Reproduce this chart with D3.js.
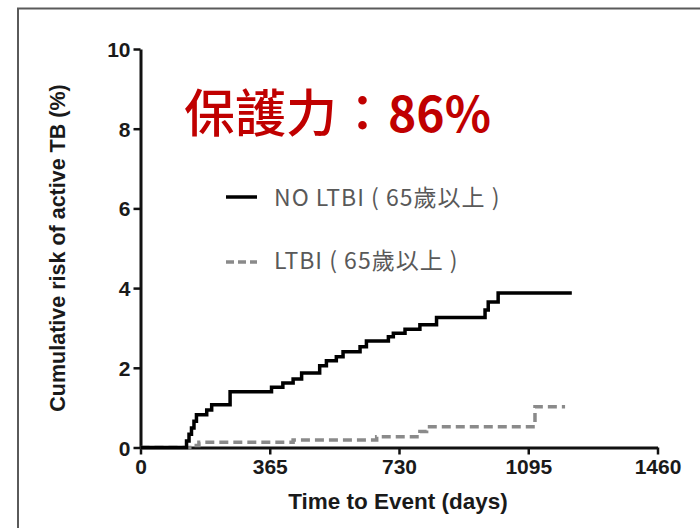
<!DOCTYPE html>
<html>
<head>
<meta charset="utf-8">
<script src="https://cdn.jsdelivr.net/npm/d3@7"></script>
<style>
  html, body { margin: 0; padding: 0; background: #fff; }
  svg { display: block; }
</style>
</head>
<body>
<svg id="chart" width="700" height="528"></svg>
<script>
// Cumulative incidence of active TB, age 65+ (step functions: [day, %])
const noLtbiSteps = [
  [0, 0], [130, 0.16], [137, 0.33], [144, 0.49], [151, 0.66], [158, 0.82],
  [187, 0.94], [201, 1.07], [253, 1.40], [370, 1.51], [402, 1.62], [431, 1.72],
  [455, 1.87], [506, 2.05], [525, 2.18], [553, 2.28], [572, 2.40], [620, 2.53],
  [638, 2.67], [700, 2.78], [714, 2.87], [747, 2.97], [789, 3.08], [836, 3.26],
  [973, 3.45], [982, 3.65], [1010, 3.88], [1218, 3.88]
];
const ltbiSteps = [
  [0, 0], [150, 0.05], [165, 0.13], [431, 0.19], [667, 0.27], [789, 0.40],
  [808, 0.52], [1114, 1.02], [1199, 1.02]
];
const xTicks = [0, 365, 730, 1095, 1460];
const yTicks = [0, 2, 4, 6, 8, 10];
const seriesNames = ["NO LTBI ( 65歲以上 )", "LTBI ( 65歲以上 )"];
const headline = ["保護力：", "86%"];
const xTitle = "Time to Event (days)";
const yTitle = "Cumulative risk of active TB (%)";

const svg = d3.select("#chart");

// outer frame
svg.append("rect")
  .attr("x", 18).attr("y", 8.5)
  .attr("width", 720).attr("height", 560)
  .attr("fill", "none").attr("stroke", "#5a5a5a").attr("stroke-width", 2);

const x = d3.scaleLinear().domain([0, 1460]).range([140.5, 657.5]);
const y = d3.scaleLinear().domain([0, 10]).range([447.5, 49]);

const axisFont = "'Liberation Sans', Arial, sans-serif";

// x axis
const gx = svg.append("g").attr("transform", `translate(0,${y(0)})`)
  .call(d3.axisBottom(x).tickValues(xTicks).tickFormat(d3.format("d"))
    .tickSize(7).tickPadding(5).tickSizeOuter(0));
// y axis
const gy = svg.append("g").attr("transform", `translate(${x(0)},0)`)
  .call(d3.axisLeft(y).tickValues(yTicks).tickFormat(d3.format("d"))
    .tickSize(7).tickPadding(3).tickSizeOuter(0));

[gx, gy].forEach(g => {
  g.select(".domain").attr("stroke", "#111").attr("stroke-width", 3);
  g.selectAll(".tick line").attr("stroke", "#111").attr("stroke-width", 2.5);
  g.selectAll(".tick text")
    .attr("fill", "#1a1a1a")
    .style("font-family", axisFont)
    .style("font-weight", "bold")
    .style("font-size", "21px");
});
gy.selectAll(".tick text").attr("dy", "0.36em");

// axis titles
svg.append("text")
  .attr("x", 398).attr("y", 509)
  .attr("text-anchor", "middle")
  .attr("fill", "#1a1a1a")
  .style("font-family", axisFont).style("font-weight", "bold").style("font-size", "22.5px")
  .text(xTitle);
svg.append("text")
  .attr("transform", "translate(65,248) rotate(-90)")
  .attr("text-anchor", "middle")
  .attr("fill", "#1a1a1a")
  .style("font-family", axisFont).style("font-weight", "bold").style("font-size", "21.5px")
  .text(yTitle);

// step curves
const line = d3.line()
  .x(d => x(d[0]))
  .y(d => y(d[1]))
  .curve(d3.curveStepAfter);

svg.append("path")
  .datum(ltbiSteps)
  .attr("d", line)
  .attr("fill", "none")
  .attr("stroke", "#8a8a8a")
  .attr("stroke-width", 3.5)
  .attr("stroke-dasharray", "9,5");

svg.append("path")
  .datum(noLtbiSteps)
  .attr("d", line)
  .attr("fill", "none")
  .attr("stroke", "#000")
  .attr("stroke-width", 3.5);

// legend
const legendFont = "'Noto Sans CJK TC', 'Noto Sans', sans-serif";
const legend = [
  { name: seriesNames[0], ly: 197, ty: 206, stroke: "#000", dash: null },
  { name: seriesNames[1], ly: 262, ty: 269, stroke: "#8a8a8a", dash: "8,4" }
];
legend.forEach(l => {
  svg.append("line")
    .attr("x1", 226).attr("x2", 257)
    .attr("y1", l.ly).attr("y2", l.ly)
    .attr("stroke", l.stroke).attr("stroke-width", 3.5)
    .attr("stroke-dasharray", l.dash);
  svg.append("text")
    .attr("x", 274).attr("y", l.ty)
    .attr("fill", "#595959")
    .style("font-family", legendFont).style("font-size", "23px")
    .style("letter-spacing", "1px")
    .style("white-space", "pre")
    .text(l.name);
});

// headline
const h = svg.append("text")
  .attr("x", 184).attr("y", 132)
  .attr("fill", "#c00000")
  .style("font-family", legendFont);
h.append("tspan").style("font-size", "51px").style("font-weight", "500").text(headline[0]);
h.append("tspan").style("font-size", "48px").style("font-weight", "bold").text(headline[1]);
</script>
</body>
</html>
